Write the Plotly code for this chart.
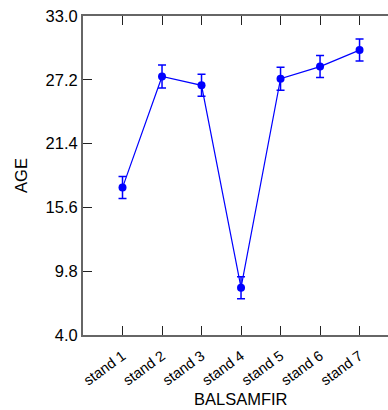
import plotly.graph_objects as go

# Mean AGE per balsam fir stand with +/- error
stands = ["stand 1", "stand 2", "stand 3", "stand 4", "stand 5", "stand 6", "stand 7"]
age_mean = [17.4, 27.5, 26.7, 8.3, 27.3, 28.4, 29.9]
age_err = [1.0, 1.05, 1.0, 1.0, 1.05, 1.0, 1.0]
y_ticks = [4.0, 9.8, 15.6, 21.4, 27.2, 33.0]

xpos = list(range(1, len(stands) + 1))
blue = "#0000FF"
axis_col = "#666666"
font_family = "Liberation Sans, Arial, sans-serif"

fig = go.Figure(
    go.Scatter(
        x=xpos,
        y=age_mean,
        mode="lines+markers",
        line=dict(color=blue, width=1.2),
        marker=dict(color=blue, size=8),
        error_y=dict(type="data", array=age_err, color=blue, thickness=1.5, width=4),
        showlegend=False,
    )
)

fig.update_layout(
    width=388,
    height=410,
    margin=dict(l=83, r=0, t=16, b=75),
    plot_bgcolor="white",
    paper_bgcolor="white",
    font=dict(family=font_family, color="black"),
    xaxis=dict(
        range=[0, 7.72],
        tickmode="array",
        tickvals=xpos,
        ticktext=stands,
        tickangle=-36,
        tickfont=dict(size=14.5),
        ticklabelstandoff=5,
        ticks="inside",
        ticklen=9,
        tickwidth=1.2,
        tickcolor="#222222",
        showline=True,
        linecolor=axis_col,
        linewidth=2,
        mirror="ticks",
        showgrid=False,
        zeroline=False,
    ),
    yaxis=dict(
        range=[4.0, 33.0],
        tickmode="array",
        tickvals=y_ticks,
        ticktext=[f"{v:.1f}" for v in y_ticks],
        tickfont=dict(size=16.5),
        ticks="inside",
        ticklen=9,
        tickwidth=1.2,
        tickcolor="#222222",
        showline=True,
        linecolor=axis_col,
        linewidth=2,
        showgrid=False,
        zeroline=False,
        title=dict(text="AGE", font=dict(size=16.5), standoff=14),
    ),
    annotations=[
        dict(
            text="BALSAMFIR",
            x=4,
            xref="x",
            y=0,
            yref="paper",
            yshift=-75,
            showarrow=False,
            font=dict(size=16.5),
        )
    ],
)

fig.write_html("out.html")
